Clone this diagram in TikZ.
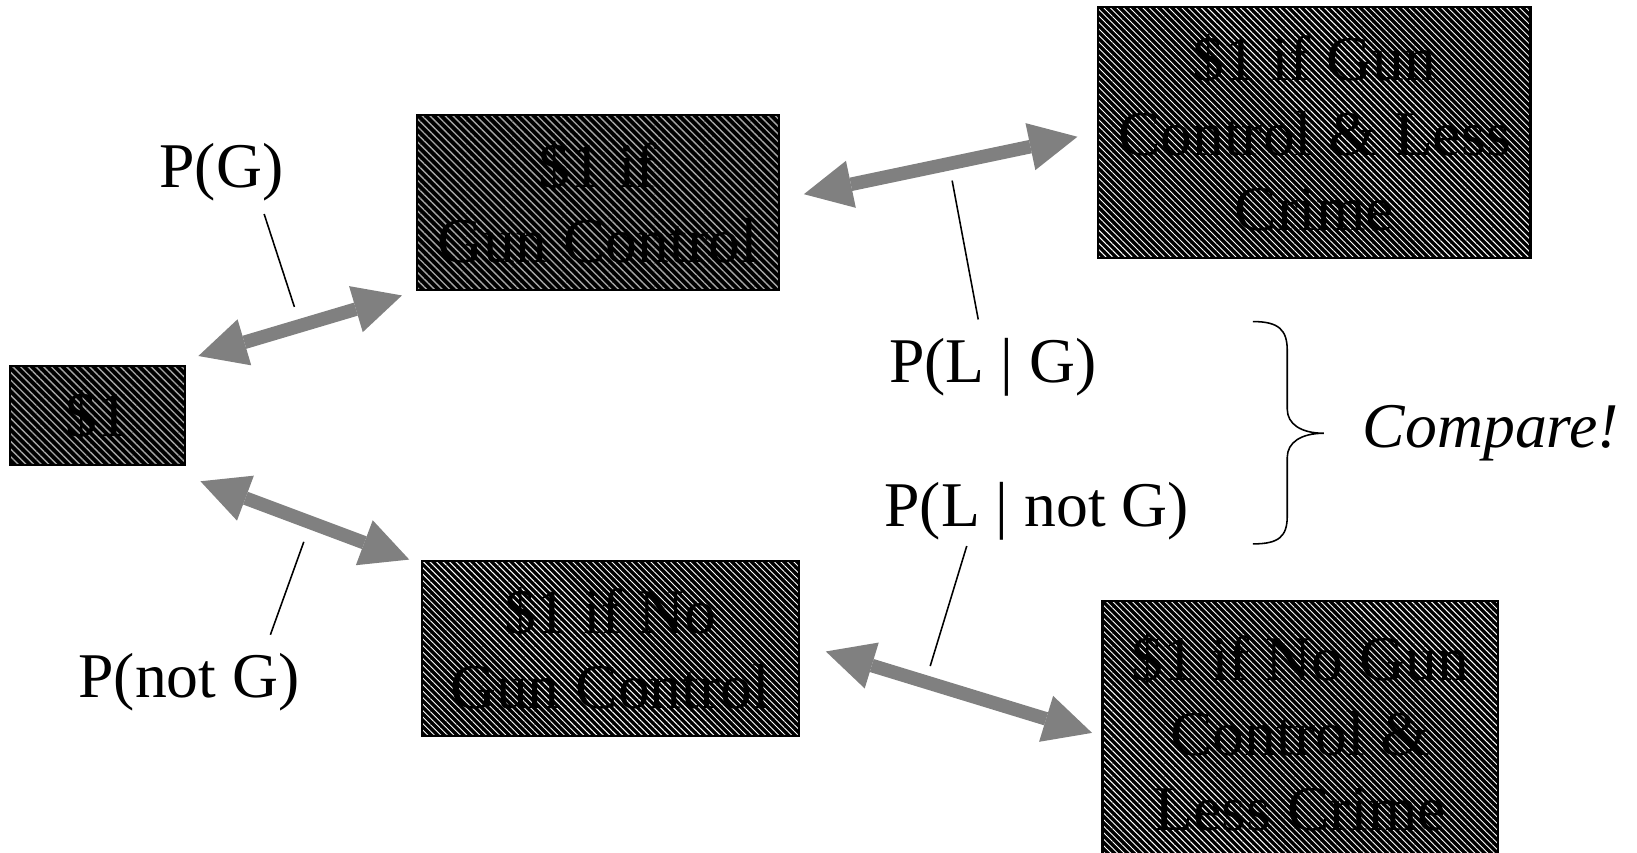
\documentclass[tikz,border=0pt]{standalone}
\usepackage{fontspec}
\setmainfont{Liberation Serif}
\usetikzlibrary{arrows.meta,patterns.meta}
\definecolor{arrowgray}{HTML}{808080}
\begin{document}
\begin{tikzpicture}[x=0.5pt,y=-0.5pt,
  every node/.style={font=\fontsize{30.5pt}{36pt}\selectfont, inner sep=0pt},
  boxA/.style={draw=black, line width=1pt, align=center,
    preaction={fill=black},
    pattern={Lines[angle=-45,distance=2.6pt,line width=0.65pt]}, pattern color=gray!70},
  boxB/.style={draw=black, line width=1pt, align=center,
    preaction={fill=black},
    pattern={Lines[angle=-45,distance=2.2pt,line width=0.45pt]}, pattern color=white},
  bigarrow/.style={draw=arrowgray, line width=6.5pt,
    {Triangle[length=23pt,width=23pt,line width=0pt]}-{Triangle[length=23pt,width=23pt,line width=0pt]}},
  pointer/.style={draw=black, line width=0.75pt},
  label/.style={text=black}
]
\useasboundingbox (0,0) rectangle (1568,817);
\begin{scope}
\clip (0,0) rectangle (1568,817);
% boxes
\node[boxA, minimum width=83.5pt, minimum height=47pt] (A) at (93.5,398) {\$1};
\node[boxA, minimum width=173.5pt, minimum height=84pt] (B) at (572.5,194) {\$1 if\\Gun Control};
\node[boxB, minimum width=207pt, minimum height=120pt] (C) at (1259,127) {\$1 if Gun\\Control \& Less\\Crime};
\node[boxB, minimum width=180.5pt, minimum height=84pt] (D) at (584.5,621) {\$1 if No\\Gun Control};
\node[boxB, minimum width=189.5pt, minimum height=126pt] (E) at (1245.5,702) {\$1 if No Gun\\Control \&\\Less Crime};
\end{scope}
% arrow end points
\coordinate (a1) at (190,341);
\coordinate (b1) at (385,283);
\coordinate (a2) at (192,461);
\coordinate (d1) at (392,536);
\coordinate (b2) at (770,186);
\coordinate (c1) at (1032,131);
\coordinate (d2) at (791,624);
\coordinate (e1) at (1046,702);
\draw[bigarrow] (a1) -- (b1);
\draw[bigarrow] (a2) -- (d1);
\draw[bigarrow] (b2) -- (c1);
\draw[bigarrow] (d2) -- (e1);
% labels
\node[label] (pg) at (212,165) {P(G)};
\node[label] (png) at (181,653) {P(not G)};
\node[label] (plg) at (951,352) {P(L | G)};
\node[label] (plng) at (993,490) {P(L | not G)};
\node[label, anchor=west] (cmp) at (1305,415) {\itshape Compare!};
% pointers
\coordinate (pg1) at (253,205);
\coordinate (pg2) at (282,294);
\coordinate (png1) at (291,519);
\coordinate (png2) at (259,608);
\coordinate (plg1) at (912,173);
\coordinate (plg2) at (937,306);
\coordinate (plng1) at (926,523);
\coordinate (plng2) at (891,638);
\draw[pointer] (pg1) -- (pg2);
\draw[pointer] (png1) -- (png2);
\draw[pointer] (plg1) -- (plg2);
\draw[pointer] (plng1) -- (plng2);
% brace
\draw[line width=0.75pt] (1200,308) .. controls (1225,308) and (1233,316) .. (1233,336)
  -- (1233,392) .. controls (1233,406) and (1246,415) .. (1268,415)
  .. controls (1246,415) and (1233,424) .. (1233,438)
  -- (1233,494) .. controls (1233,514) and (1225,521) .. (1200,521);
\end{tikzpicture}
\end{document}
